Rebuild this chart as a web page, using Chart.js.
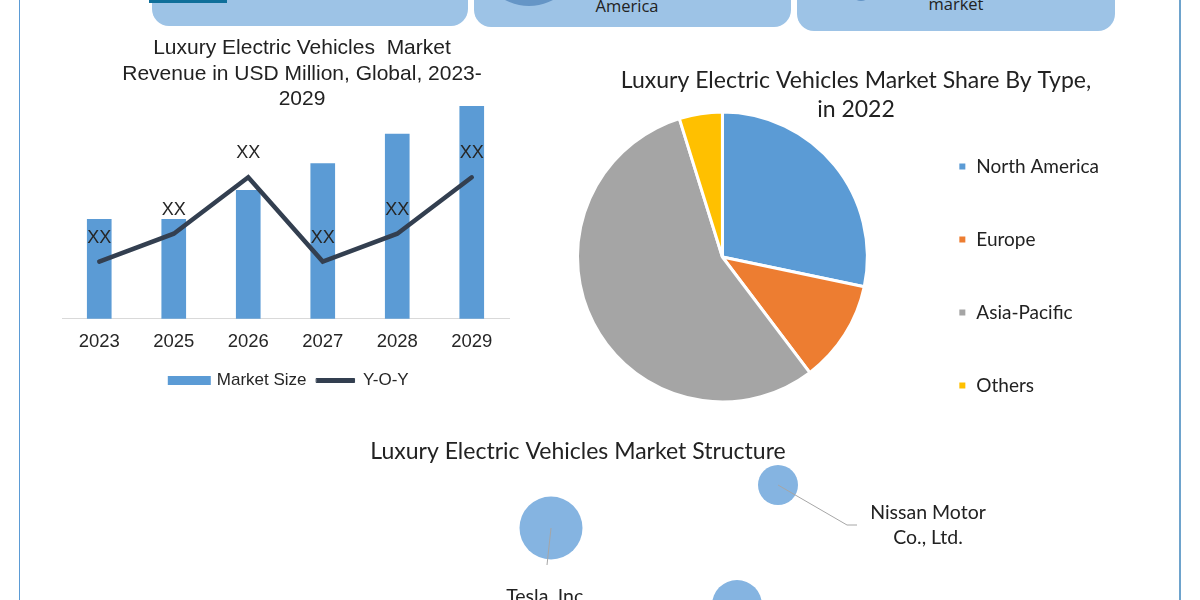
<!DOCTYPE html>
<html>
<head>
<meta charset="utf-8">
<script src="https://cdn.jsdelivr.net/npm/chart.js@4"></script>
<style>
  html, body { margin: 0; height: 100%; background: #fff; overflow: hidden; }
  .box { position: absolute; }
  .panel { background: #9dc3e6; border-radius: 0 0 17px 17px; top: -20px; }
  .panel-text { position: absolute; font-family: "Open Sans"; color: #222; text-align: center; line-height: 14px; }
</style>
</head>
<body>
<div class="box" style="left:19px;top:0;width:1px;height:600px;background:#5b9bd5"></div>
<div class="box" style="left:1179px;top:0;width:2px;height:600px;background:#6ea3cc"></div>
<div class="box panel" style="left:152px;width:316px;height:46px"></div>
<div class="box panel" style="left:474px;width:317px;height:47px;overflow:hidden"></div>
<div class="box panel" style="left:797px;width:318px;height:51px"></div>
<div class="box" style="left:149px;top:0;width:78px;height:3px;background:#0f6f9a"></div>
<div class="box" style="left:478px;top:-96px;width:102px;height:102px;border-radius:50%;background:#6595c6"></div>
<div class="box" style="left:851px;top:-19px;width:20px;height:20px;border-radius:50%;background:#6595c6"></div>
<div class="panel-text" style="left:587px;top:-1px;width:80px;font-size:16.5px">America</div>
<div class="panel-text" style="left:916px;top:-3px;width:80px;font-size:16.5px;font-weight:500">market</div>

<canvas id="revenue" class="box" style="left:37px;top:30px;width:530px;height:370px"></canvas>
<canvas id="share" class="box" style="left:530px;top:50px;width:652px;height:414px"></canvas>
<canvas id="structure" class="box" style="left:0;top:430px;width:1200px;height:200px"></canvas>

<script>
const years = ['2023', '2025', '2026', '2027', '2028', '2029'];
const marketSize = [46.7, 46.7, 60.4, 73, 86.8, 100];
const yoy = [26.9, 40, 66.5, 26.9, 40, 66.5];
const yoyLabels = ['XX', 'XX', 'XX', 'XX', 'XX', 'XX'];

const regions = ['North America', 'Europe', 'Asia-Pacific', 'Others'];
const regionShare = [28.3, 11.4, 55.5, 4.8];
const regionColors = ['#5b9bd5', '#ed7d31', '#a5a5a5', '#ffc000'];

const companies = [['Tesla, Inc.'], ['Nissan Motor', 'Co., Ltd.']];
const companyX = [55.1, 77.8, 73.7];
const companyY = [10.2, 14.5, 2.5];
const companyR = [31.5, 20, 25];
const teslaLeaderX = [55.1, 54.7];
const teslaLeaderY = [10.2, 6.5];
const nissanLeaderX = [77.8, 84.7, 85.7];
const nissanLeaderY = [14.5, 10.5, 10.5];
const labelX = [54.7, 92.8];
const labelY = [3.3, 11.7];

Chart.defaults.animation = false;
Chart.defaults.responsive = false;
Chart.defaults.devicePixelRatio = 1;
Chart.defaults.layout.autoPadding = false;

function sizeCanvas(id) {
  const el = document.getElementById(id);
  el.width = parseInt(el.style.width);
  el.height = parseInt(el.style.height);
  return el;
}

// title and legend don't sit where the layout wants them, shift the boxes after it ran
function moveBox(box, dx, dy) {
  box.left += dx;
  box.right += dx;
  box.top += dy;
  box.bottom += dy;
}

// XX labels sit a bit above the line
const yoyLabelPlugin = {
  id: 'yoyLabels',
  afterDatasetsDraw(chart) {
    const { ctx, scales } = chart;
    ctx.save();
    ctx.font = '18px "Liberation Sans"';
    ctx.fillStyle = '#262626';
    ctx.textAlign = 'center';
    ctx.textBaseline = 'middle';
    yoy.forEach((v, i) => {
      ctx.fillText(yoyLabels[i], scales.x.getPixelForValue(i), scales.y.getPixelForValue(v) - 24);
    });
    ctx.restore();
  }
};

const revenueBoxes = {
  id: 'revenueBoxes',
  afterLayout(chart) {
    moveBox(chart.titleBlock, 16.5, -76);
    moveBox(chart.legend, 4, 5);
  }
};

new Chart(sizeCanvas('revenue'), {
  type: 'bar',
  plugins: [yoyLabelPlugin, revenueBoxes],
  data: {
    labels: years,
    datasets: [
      { type: 'line', label: 'Y-O-Y', data: yoy, borderColor: '#333f50', backgroundColor: '#333f50', borderWidth: 4.5, pointRadius: 0, borderCapStyle: 'round', order: 1 },
      { label: 'Market Size', data: marketSize, backgroundColor: '#5b9bd5', barThickness: 24, order: 2 }
    ]
  },
  options: {
    layout: { padding: { left: 25, right: 58, top: 76, bottom: 6 } },
    scales: {
      x: { grid: { display: false }, border: { color: '#d9d9d9' }, ticks: { color: '#262626', font: { family: '"Liberation Sans"', size: 18.5 }, padding: 4 } },
      y: { display: false, min: 0, max: 100 }
    },
    plugins: {
      title: {
        display: true,
        text: ['Luxury Electric Vehicles  Market', 'Revenue in USD Million, Global, 2023-', '2029'],
        color: '#222',
        font: { family: '"Liberation Sans"', size: 21, weight: 'normal', lineHeight: 1.2 },
        padding: { top: 6, bottom: -81.6 }
      },
      legend: {
        position: 'bottom',
        reverse: true,
        labels: {
          boxWidth: 38,
          boxHeight: 4,
          color: '#262626',
          font: { family: '"Liberation Sans"', size: 17 },
          generateLabels(chart) {
            const items = Chart.defaults.plugins.legend.labels.generateLabels(chart);
            items.forEach(item => {
              const isLine = item.text === 'Y-O-Y';
              item.strokeStyle = item.fillStyle;
              item.lineWidth = isLine ? 1 : 5;
            });
            return items;
          }
        }
      },
      tooltip: { enabled: false }
    }
  }
});

// legend rows sit lower than the pie centre in the reference, and further right
const shareBoxes = {
  id: 'shareBoxes',
  afterLayout(chart) {
    moveBox(chart.titleBlock, 31, -28);
    moveBox(chart.legend, 35, 19);
  }
};

new Chart(sizeCanvas('share'), {
  type: 'pie',
  plugins: [shareBoxes],
  data: {
    labels: regions,
    datasets: [{ data: regionShare, backgroundColor: regionColors, borderColor: '#fff', borderWidth: 3 }]
  },
  options: {
    layout: { padding: { left: 46, right: 108, top: 28, bottom: 28 } },
    plugins: {
      title: {
        display: true,
        text: ['Luxury Electric Vehicles Market Share By Type,', 'in 2022'],
        color: '#222',
        font: { family: 'Lato', size: 23, weight: 'normal', lineHeight: 1.25 },
        padding: { top: 16, bottom: -73.5 }
      },
      legend: {
        position: 'right',
        labels: {
          boxWidth: 9,
          boxHeight: 9,
          padding: 54,
          color: '#222',
          font: { family: 'Lato', size: 19 }
        }
      },
      tooltip: { enabled: false }
    }
  }
});

const companyLabelPlugin = {
  id: 'companyLabels',
  afterDatasetsDraw(chart) {
    const { ctx, scales } = chart;
    ctx.save();
    ctx.font = '19.5px Lato';
    ctx.fillStyle = '#222';
    ctx.textAlign = 'center';
    ctx.textBaseline = 'middle';
    companies.forEach((lines, i) => {
      lines.forEach((line, j) => {
        ctx.fillText(line, scales.x.getPixelForValue(labelX[i]), scales.y.getPixelForValue(labelY[i]) + j * 25);
      });
    });
    ctx.restore();
  }
};

const structureBoxes = {
  id: 'structureBoxes',
  afterLayout(chart) {
    moveBox(chart.titleBlock, -22, 0);
  }
};

const toPoints = (xs, ys) => xs.map((x, i) => ({ x, y: ys[i] }));

new Chart(sizeCanvas('structure'), {
  type: 'bubble',
  plugins: [companyLabelPlugin, structureBoxes],
  data: {
    datasets: [
      { type: 'line', data: toPoints(teslaLeaderX, teslaLeaderY), borderColor: '#a6a6a6', borderWidth: 1, pointRadius: 0, order: 1 },
      { type: 'line', data: toPoints(nissanLeaderX, nissanLeaderY), borderColor: '#a6a6a6', borderWidth: 1, pointRadius: 0, order: 1 },
      { data: companyX.map((x, i) => ({ x, y: companyY[i], r: companyR[i] })), backgroundColor: '#85b4e1', borderWidth: 0, order: 2 }
    ]
  },
  options: {
    scales: {
      x: { type: 'linear', display: false, min: 0, max: 120 },
      y: { type: 'linear', display: false, min: 0, max: 20 }
    },
    plugins: {
      title: {
        display: true,
        text: 'Luxury Electric Vehicles Market Structure',
        color: '#222',
        font: { family: 'Lato', size: 23, weight: 'normal', lineHeight: 1.2 },
        padding: { top: 8, bottom: -35.6 }
      },
      legend: { display: false },
      tooltip: { enabled: false }
    }
  }
});
</script>
</body>
</html>
